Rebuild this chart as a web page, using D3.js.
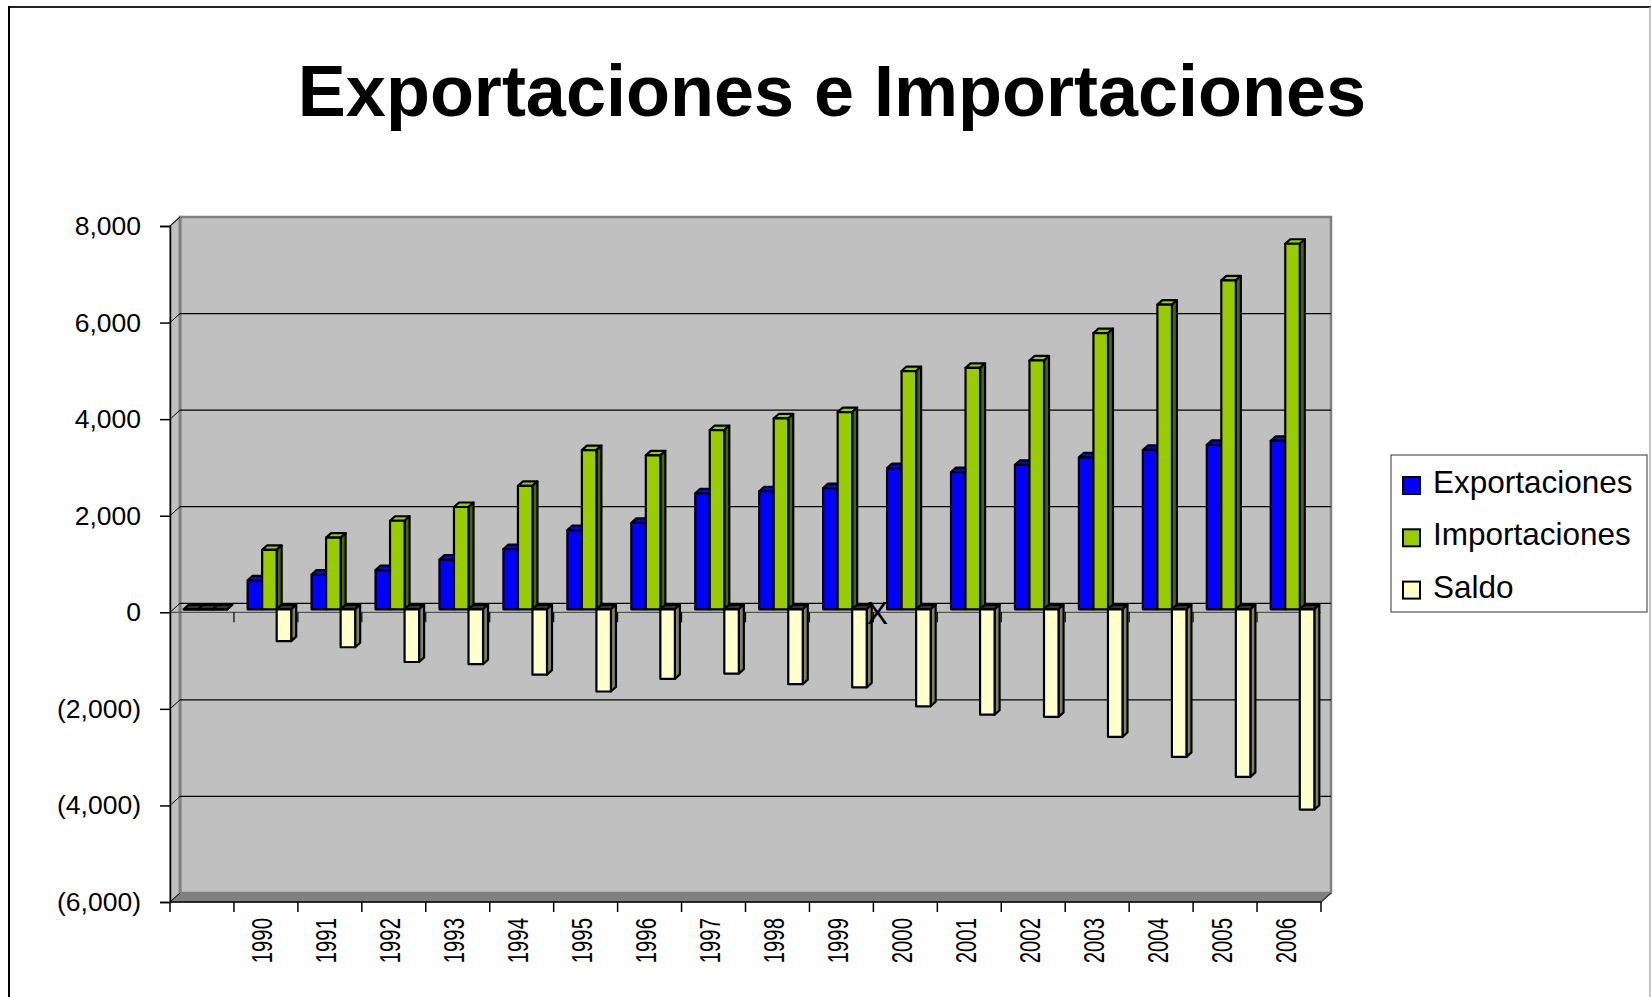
<!DOCTYPE html>
<meta charset="utf-8">
<style>
body { margin: 0; background: #fff; }
text { font-family: "Liberation Sans", Arial, sans-serif; fill: #000; }
.bar path { stroke: #000; stroke-width: 2.2px; stroke-linejoin: round; }
</style>
<body>
<script src="https://d3js.org/d3.v7.min.js"></script>
<script>
// data
var categories = ["", "1990", "1991", "1992", "1993", "1994", "1995", "1996", "1997", "1998",
                  "1999", "2000", "2001", "2002", "2003", "2004", "2005", "2006"];
var exportaciones = [0, 600, 720, 810, 1030, 1245, 1640, 1790, 2400, 2445, 2510, 2925, 2840, 2990, 3145, 3300, 3405, 3490];
var importaciones = [0, 1230, 1485, 1834, 2118, 2555, 3297, 3188, 3712, 3952, 4083, 4934, 5000, 5153, 5720, 6310, 6812, 7570];
var saldo = [0, -660, -786, -1092, -1135, -1354, -1703, -1441, -1332, -1550, -1616, -2009, -2183, -2227, -2642, -3057, -3472, -4148];
var seriesNames = ["Exportaciones", "Importaciones", "Saldo"];
var yTicks = [-6000, -4000, -2000, 0, 2000, 4000, 6000, 8000];

var colors = {
  Exportaciones: {front: "#0000ff", side: "#000080", top: "#0000ff"},
  Importaciones: {front: "#99cc00", side: "#4d6600", top: "#99cc00"},
  Saldo: {front: "#ffffcc", side: "#808066", top: "#ffffcc"}
};

var W = 1651, H = 997;
var svg = d3.select("body").append("svg").attr("width", W).attr("height", H);

// outer frame
svg.append("line").attr("x1", 9).attr("y1", 7).attr("x2", W).attr("y2", 7).attr("stroke", "#222").attr("stroke-width", 2);
svg.append("line").attr("x1", 9).attr("y1", 6).attr("x2", 9).attr("y2", H).attr("stroke", "#000").attr("stroke-width", 2);
svg.append("line").attr("x1", 1650).attr("y1", 7).attr("x2", 1650).attr("y2", H).attr("stroke", "#b0b0b0").attr("stroke-width", 1.5);

// title
svg.append("text").attr("x", 832).attr("y", 116).attr("text-anchor", "middle")
  .style("font-size", "72px").style("font-weight", "bold").text("Exportaciones e Importaciones");

// scales
var x = d3.scaleBand().domain(categories).range([170, 1321]).padding(0);
var xs = d3.scaleBand().domain(seriesNames).range([0, x.bandwidth()]).paddingInner(0).paddingOuter(0.7);
var y = d3.scaleLinear().domain([-6000, 8000]).range([902, 226]);

var depth = {dx: 10, dy: -9};          // wall depth
var barFront = {dx: 3.5, dy: -3};      // bar front face offset
var barDepth = {dx: 5, dy: -4.5};      // bar thickness

var x0 = 170, x1 = 1321;
var yTop = y(8000), yBot = y(-6000);

// back wall, side wall, floor
svg.append("path")
  .attr("d", "M" + (x0 + depth.dx) + "," + (yTop + depth.dy) + "H" + (x1 + depth.dx) + "V" + (yBot + depth.dy) + "H" + (x0 + depth.dx) + "Z")
  .attr("fill", "#c0c0c0").attr("stroke", "#808080").attr("stroke-width", 2.5);
svg.append("path")
  .attr("d", "M" + x0 + "," + yTop + "L" + (x0 + depth.dx) + "," + (yTop + depth.dy) + "V" + (yBot + depth.dy) + "L" + x0 + "," + yBot + "Z")
  .attr("fill", "#c0c0c0").attr("stroke", "#808080").attr("stroke-width", 1.5);
svg.append("path")
  .attr("d", "M" + x0 + "," + yBot + "L" + (x0 + depth.dx) + "," + (yBot + depth.dy) + "H" + (x1 + depth.dx) + "L" + x1 + "," + yBot + "Z")
  .attr("fill", "#808080").attr("stroke", "#808080").attr("stroke-width", 1);
svg.append("line").attr("x1", x0 + depth.dx).attr("x2", x0 + depth.dx)
  .attr("y1", yTop + depth.dy).attr("y2", yBot + depth.dy).attr("stroke", "#808080").attr("stroke-width", 3);

// gridlines
var grid = svg.append("g");
yTicks.filter(function(d) { return d > -6000 && d < 8000; }).forEach(function(d) {
  grid.append("line").attr("x1", x0 + depth.dx).attr("x2", x1 + depth.dx)
    .attr("y1", y(d) + depth.dy).attr("y2", y(d) + depth.dy)
    .attr("stroke", "#000").attr("stroke-width", 1.2);
});
yTicks.forEach(function(d) {
  grid.append("line").attr("x1", x0).attr("x2", x0 + depth.dx)
    .attr("y1", y(d)).attr("y2", y(d) + depth.dy)
    .attr("stroke", "#000").attr("stroke-width", 1);
});

// front zero line with its category ticks
svg.append("line").attr("x1", x0).attr("x2", x1).attr("y1", y(0)).attr("y2", y(0))
  .attr("stroke", "#555").attr("stroke-width", 1.2);
categories.forEach(function(c, i) {
  if (i === 0) return;
  svg.append("line").attr("x1", x(c)).attr("x2", x(c)).attr("y1", y(0)).attr("y2", y(0) + 10)
    .attr("stroke", "#000").attr("stroke-width", 1.2);
});

// bars
function barFaces(xa, bw, v) {
  var xl = xa + barFront.dx, xr = xl + bw;
  var ya = y(Math.max(v, 0)) + barFront.dy, yb = y(Math.min(v, 0)) + barFront.dy;
  var dx = barDepth.dx, dy = barDepth.dy;
  return {
    top: "M" + xl + "," + ya + "L" + xr + "," + ya + "L" + (xr + dx) + "," + (ya + dy) + "L" + (xl + dx) + "," + (ya + dy) + "Z",
    side: "M" + xr + "," + ya + "L" + (xr + dx) + "," + (ya + dy) + "L" + (xr + dx) + "," + (yb + dy) + "L" + xr + "," + yb + "Z",
    front: "M" + xl + "," + ya + "H" + xr + "V" + yb + "H" + xl + "Z"
  };
}

var seriesValues = {Exportaciones: exportaciones, Importaciones: importaciones, Saldo: saldo};
var bars = svg.append("g").attr("class", "bar");
categories.forEach(function(c, i) {
  seriesNames.forEach(function(s) {
    var v = seriesValues[s][i];
    var f = barFaces(x(c) + xs(s), xs.bandwidth(), v);
    // flat (zero) bars and the top of the negative bars read as dark in the original
    bars.append("path").attr("d", f.top).attr("fill", v <= 0 ? "#333" : colors[s].top);
    bars.append("path").attr("d", f.side).attr("fill", colors[s].side);
    bars.append("path").attr("d", f.front).attr("fill", colors[s].front);
  });
});

// stray mark on the zero line
svg.append("text").attr("x", x("2000") + 4).attr("y", y(0) + 1)
  .attr("text-anchor", "middle").attr("dominant-baseline", "central")
  .style("font-size", "32px").text("X");

// y axis
var yAxis = svg.append("g").attr("transform", "translate(" + x0 + ",0)")
  .call(d3.axisLeft(y).tickValues(yTicks).tickSize(10).tickPadding(19).tickFormat(d3.format("(,")));
yAxis.selectAll("path, line").attr("stroke", "#000").attr("stroke-width", 1.5);
yAxis.selectAll("text").style("font-size", "26.5px").attr("font-family", null);

// bottom axis
svg.append("line").attr("x1", x0).attr("x2", x1).attr("y1", yBot).attr("y2", yBot)
  .attr("stroke", "#000").attr("stroke-width", 1.5);
svg.append("line").attr("x1", x1).attr("x2", x1 + depth.dx).attr("y1", yBot).attr("y2", yBot + depth.dy)
  .attr("stroke", "#333").attr("stroke-width", 1.2);
var edges = categories.map(function(c) { return x(c); }).concat([x1]);
edges.forEach(function(e) {
  svg.append("line").attr("x1", e).attr("x2", e).attr("y1", yBot).attr("y2", yBot + 10)
    .attr("stroke", "#000").attr("stroke-width", 1.5);
});
categories.forEach(function(c) {
  if (!c) return;
  var cx = x(c) + x.bandwidth() / 2 - 4;
  svg.append("text")
    .attr("transform", "translate(" + cx + ",918) rotate(-90) scale(0.68,1)")
    .attr("text-anchor", "end").attr("dominant-baseline", "central")
    .style("font-size", "30px").text(c);
});

// legend
var legend = svg.append("g").attr("transform", "translate(1391,455)");
legend.append("rect").attr("width", 256).attr("height", 157)
  .attr("fill", "#fff").attr("stroke", "#555").attr("stroke-width", 1.2);
seriesNames.forEach(function(s, i) {
  var row = legend.append("g").attr("transform", "translate(0," + (i * 52.3) + ")");
  row.append("rect").attr("x", 12).attr("y", 22).attr("width", 17).attr("height", 17)
    .attr("fill", colors[s].front).attr("stroke", "#000").attr("stroke-width", 2);
  row.append("text").attr("x", 42).attr("y", 38).style("font-size", "31.5px").text(s);
});
</script>
</body>
